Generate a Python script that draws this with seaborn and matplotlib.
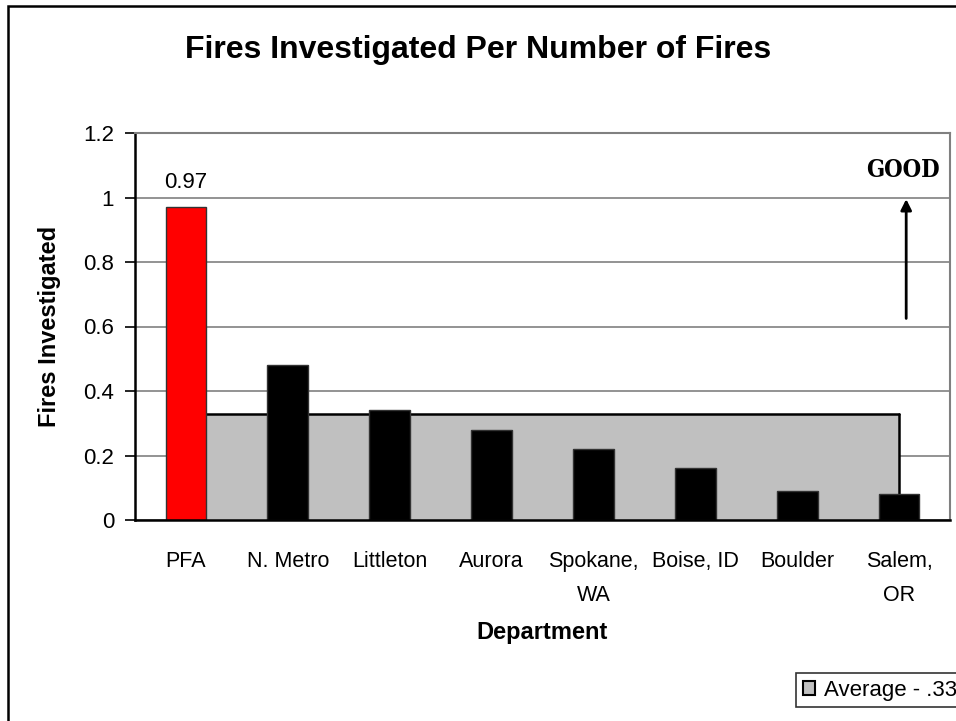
import matplotlib
matplotlib.use("Agg")
import matplotlib.pyplot as plt
from matplotlib.patches import Patch, Rectangle
import seaborn as sns
import pandas as pd

# Department results
departments = ["PFA", "N. Metro", "Littleton", "Aurora", "Spokane,\nWA",
               "Boise, ID", "Boulder", "Salem,\nOR"]
fires_investigated = [0.97, 0.48, 0.34, 0.28, 0.22, 0.16, 0.09, 0.08]
average_values = [0.33, 0.33, 0.33, 0.33, 0.33, 0.33, 0.33, 0.33]
bar_colors = ["#ff0000", "#000000", "#000000", "#000000", "#000000",
              "#000000", "#000000", "#000000"]
y_ticks = [0, 0.2, 0.4, 0.6, 0.8, 1.0, 1.2]
y_tick_labels = ["0", "0.2", "0.4", "0.6", "0.8", "1", "1.2"]
legend_label = "Average - .33"

sns.set_theme(style="white")
plt.rcParams["font.family"] = ["Liberation Sans", "DejaVu Sans"]
plt.rcParams.update({"text.color": "black", "axes.labelcolor": "black",
                     "xtick.color": "black", "ytick.color": "black"})

W, H = 956, 721
fig = plt.figure(figsize=(W / 100, H / 100), dpi=100)
ax = fig.add_axes([135 / W, (H - 520) / H, (950 - 135) / W, (520 - 133) / H])

df = pd.DataFrame({"Department": departments, "Fires": fires_investigated})

# Average shown as a grey area spanning the category centres
xs = list(range(len(departments)))
ax.fill_between(xs, 0, average_values, color="#c0c0c0", zorder=1, linewidth=0)
ax.plot(xs, average_values, color="black", lw=1.8, zorder=1.5)
ax.plot([xs[-1], xs[-1]], [0, average_values[-1]], color="black", lw=1.8, zorder=1.5)

sns.barplot(data=df, x="Department", y="Fires", hue="Department",
            palette=bar_colors, saturation=1, width=0.4, edgecolor="#333333",
            linewidth=1, legend=False, ax=ax, zorder=3)

# Value label on the first bar
ax.text(0, fires_investigated[0] + 0.045, f"{fires_investigated[0]:.2f}",
        ha="center", va="bottom", fontsize=16)

ax.set_xlim(-0.5, len(departments) - 0.5)
ax.set_ylim(0, 1.2)
ax.set_yticks(y_ticks)
ax.set_yticklabels(y_tick_labels, fontsize=16)
ax.yaxis.grid(True, color="#808080", lw=1.2)
ax.set_axisbelow(True)
for g in ax.get_ygridlines():
    g.set_zorder(0)

ax.set_xticks(xs)
ax.set_xticklabels(departments, fontsize=15.5, linespacing=1.85, va="top")
ax.tick_params(axis="x", which="major", length=0, pad=22)
ax.set_xticks([i - 0.5 for i in range(len(departments) + 1)], minor=True)
ax.tick_params(axis="x", which="minor", direction="inout", length=12,
               width=1.2, color="black")
ax.tick_params(axis="y", which="major", direction="out", length=7,
               width=1.2, color="black", left=True, pad=8)

for side in ("left", "bottom"):
    ax.spines[side].set_color("black")
    ax.spines[side].set_linewidth(1.8)
for side in ("top", "right"):
    ax.spines[side].set_color("#808080")
    ax.spines[side].set_linewidth(1.5)
ax.spines["bottom"].set_zorder(4)

ax.set_xlabel("Department", fontsize=17, fontweight="bold", labelpad=11)
ax.set_ylabel("Fires Investigated", fontsize=17, fontweight="bold", labelpad=16)

fig.text(0.5, 1 - 50 / H, "Fires Investigated Per Number of Fires",
         ha="center", va="center", fontsize=23, fontweight="bold")

# "GOOD" marker with an upward arrow
ax.annotate("", xy=(7.07, 0.995), xytext=(7.07, 0.625),
            arrowprops=dict(arrowstyle="-|>", lw=2, color="black",
                            mutation_scale=16, shrinkA=0, shrinkB=0))
ax.text(7.04, 1.085, "GOOD", ha="center", va="center", fontsize=17,
        fontweight="bold", family="DejaVu Serif", fontstretch="condensed")

# Legend box at the lower right
handles = [Patch(facecolor="#c0c0c0", edgecolor="black", linewidth=1.5,
                 label=legend_label)]
leg = fig.legend(handles=handles, loc="upper left",
                 bbox_to_anchor=(796 / W, 1 - 673 / H), frameon=True,
                 fancybox=False, fontsize=16, handlelength=0.55,
                 handleheight=0.55, handletextpad=0.4, borderpad=0.3,
                 borderaxespad=0)
leg.get_frame().set_edgecolor("black")
leg.get_frame().set_linewidth(1.2)

# Outer chart border
fig.add_artist(Rectangle((8 / W, -0.05), 1.2, 1 - 6 / H + 0.05,
                         transform=fig.transFigure, fill=False,
                         edgecolor="black", lw=1.8, zorder=10))

fig.savefig("out.png", dpi=100)
